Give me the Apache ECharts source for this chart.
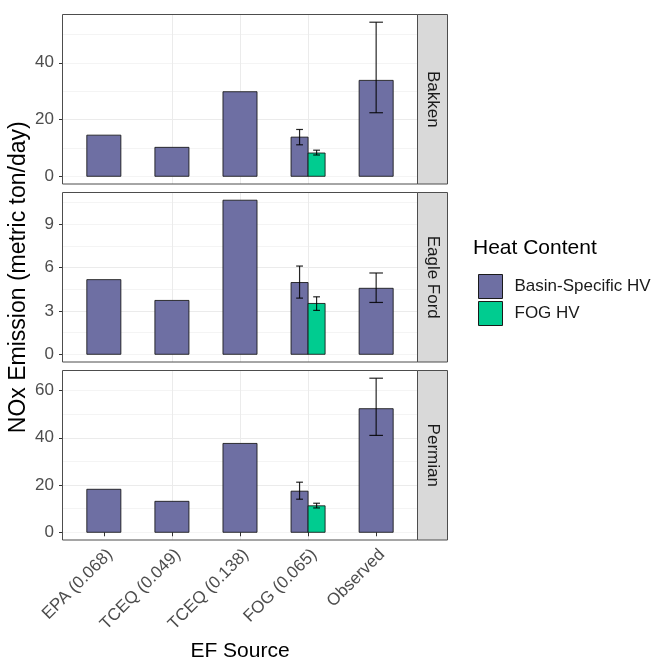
<!DOCTYPE html>
<html><head><meta charset="utf-8">
<script src="https://cdn.jsdelivr.net/npm/echarts@6/dist/echarts.min.js"></script>
<style>html,body{margin:0;padding:0;background:#fff}#c{width:651px;height:662px}</style>
</head><body><div id="c"></div>
<script>
// ---- data ----
const categories = ['EPA (0.068)', 'TCEQ (0.049)', 'TCEQ (0.138)', 'FOG (0.065)', 'Observed'];
const basins = ['Bakken', 'Eagle Ford', 'Permian'];
const seriesNames = ['Basin-Specific HV', 'FOG HV'];
const basinHV = [
  [14.5, 10.2, 29.8, 13.8, 33.8],
  [5.17, 3.73, 10.67, 4.97, 4.57],
  [18.2, 13.1, 37.6, 17.4, 52.3]
];
const fogHV = [
  [null, null, null, 8.2, null],
  [null, null, null, 3.52, null],
  [null, null, null, 11.2, null]
];
const basinErrLow = [
  [null, null, null, 11.1, 22.4],
  [null, null, null, 3.89, 3.59],
  [null, null, null, 14.0, 41.0]
];
const basinErrHigh = [
  [null, null, null, 16.5, 54.3],
  [null, null, null, 6.11, 5.63],
  [null, null, null, 21.2, 65.2]
];
const fogErrLow = [
  [null, null, null, 7.5, null],
  [null, null, null, 3.04, null],
  [null, null, null, 10.3, null]
];
const fogErrHigh = [
  [null, null, null, 9.2, null],
  [null, null, null, 3.98, null],
  [null, null, null, 12.3, null]
];
const tickSteps = [20, 3, 20];

// ---- layout / style ----
const COLORS = ['#6E6FA3', '#00CC90'];
const PANEL_LEFT = 63, PANEL_W = 354, PANEL_TOP = 14.5, PANEL_H = 169.5, PANEL_STEP = 178;
const STRIP_W = 30;
const FONT = '"Liberation Sans", Arial, sans-serif';
const BAR_W = 0.5;

const chart = echarts.init(document.getElementById('c'), null, {renderer: 'canvas'});

function barRender(params, api) {
  const x = api.value(0), y = api.value(1), pos = api.value(2); // pos: 0 single, -1 left dodge, 1 right dodge
  const w = pos === 0 ? BAR_W : BAR_W / 2;
  const cx = x + pos * BAR_W / 4;
  const p0 = api.coord([cx - w / 2, 0]);
  const p1 = api.coord([cx + w / 2, y]);
  return {
    type: 'rect',
    shape: {x: p0[0], y: p1[1], width: p1[0] - p0[0], height: p0[1] - p1[1]},
    style: {fill: api.visual('color'), stroke: 'rgba(20,20,20,0.85)', lineWidth: 1}
  };
}
function errRender(params, api) {
  const x = api.value(0), lo = api.value(1), hi = api.value(2), pos = api.value(3);
  const cx = x + pos * BAR_W / 4;
  const half = pos === 0 ? 0.1 : 0.05;
  const a = api.coord([cx, lo]), b = api.coord([cx, hi]);
  const l = api.coord([cx - half, lo])[0], r = api.coord([cx + half, lo])[0];
  const st = {stroke: 'rgba(0,0,0,0.85)', lineWidth: 1.2};
  return {type: 'group', children: [
    {type: 'line', shape: {x1: a[0], y1: a[1], x2: b[0], y2: b[1]}, style: st},
    {type: 'line', shape: {x1: l, y1: a[1], x2: r, y2: a[1]}, style: st},
    {type: 'line', shape: {x1: l, y1: b[1], x2: r, y2: b[1]}, style: st}
  ]};
}

const grid = [], xAxis = [], yAxis = [], series = [], graphic = [];
basins.forEach((b, p) => {
  const top = PANEL_TOP + p * PANEL_STEP;
  grid.push({left: PANEL_LEFT, top: top, width: PANEL_W, height: PANEL_H});
  const isBottom = p === basins.length - 1;
  xAxis.push({
    type: 'value', gridIndex: p, min: -0.6, max: 4.6, minInterval: 1, maxInterval: 1,
    axisLine: {show: false},
    axisTick: {show: isBottom, length: 4, lineStyle: {color: '#333'}, customValues: categories.map((c, i) => i)},
    axisLabel: {show: isBottom, customValues: categories.map((c, i) => i), rotate: 45, verticalAlign: 'top', align: 'right',
      margin: 6, fontSize: 17, color: '#4D4D4D', fontFamily: FONT,
      formatter: v => categories[Math.round(v)] || ''},
    splitLine: {show: true, showMinLine: false, showMaxLine: false, lineStyle: {color: '#EBEBEB', width: 1}}
  });
  // y range like ggplot (5% expansion)
  let maxV = 0;
  [basinHV[p], fogHV[p], basinErrHigh[p], fogErrHigh[p]].forEach(arr => arr.forEach(v => { if (v != null && v > maxV) maxV = v; }));
  const span = maxV;
  const ymin = -0.05 * span, ymax = maxV + 0.05 * span;
  const step = tickSteps[p];
  const majors = [];
  for (let v = 0; v <= ymax + 1e-9; v += step) majors.push(+v.toFixed(6));
  // minor grid axis
  yAxis.push({
    type: 'value', gridIndex: p, position: 'left', min: ymin, max: ymax, minInterval: step / 2, maxInterval: step / 2,
    axisLine: {show: false}, axisTick: {show: false}, axisLabel: {show: false},
    splitLine: {show: true, showMinLine: false, showMaxLine: false, lineStyle: {color: '#F4F4F4', width: 1}}
  });
  const majorIndex = yAxis.length;
  yAxis.push({
    type: 'value', gridIndex: p, position: 'left', min: ymin, max: ymax, minInterval: step, maxInterval: step,
    axisLine: {show: false},
    axisTick: {show: true, length: 4, lineStyle: {color: '#333'}, customValues: majors},
    axisLabel: {show: true, customValues: majors, margin: 9, fontSize: 17, color: '#4D4D4D', fontFamily: FONT,
      formatter: v => String(Math.round(v))},
    splitLine: {show: true, showMinLine: false, showMaxLine: false, lineStyle: {color: '#EBEBEB', width: 1}}
  });

  const basinData = [], fogData = [], errData = [];
  categories.forEach((c, i) => {
    const dodged = fogHV[p][i] != null;
    if (basinHV[p][i] != null) basinData.push([i, basinHV[p][i], dodged ? -1 : 0]);
    if (fogHV[p][i] != null) fogData.push([i, fogHV[p][i], 1]);
    if (basinErrLow[p][i] != null) errData.push([i, basinErrLow[p][i], basinErrHigh[p][i], dodged ? -1 : 0]);
    if (fogErrLow[p][i] != null) errData.push([i, fogErrLow[p][i], fogErrHigh[p][i], 1]);
  });
  series.push({type: 'custom', name: seriesNames[0], xAxisIndex: p, yAxisIndex: majorIndex, renderItem: barRender,
    itemStyle: {color: COLORS[0]}, data: basinData, encode: {x: 0, y: 1}, z: 3});
  series.push({type: 'custom', name: seriesNames[1], xAxisIndex: p, yAxisIndex: majorIndex, renderItem: barRender,
    itemStyle: {color: COLORS[1]}, data: fogData, encode: {x: 0, y: 1}, z: 3});
  series.push({type: 'custom', name: 'err', xAxisIndex: p, yAxisIndex: majorIndex, renderItem: errRender,
    data: errData, encode: {x: 0, y: [1, 2]}, z: 4, silent: true});

  // panel frame and strip
  graphic.push({type: 'rect', z: 100, silent: true,
    shape: {x: PANEL_LEFT - 0.5, y: top, width: PANEL_W + 1, height: PANEL_H},
    style: {fill: 'none', stroke: '#4D4D4D', lineWidth: 1}});
  graphic.push({type: 'rect', z: 100, silent: true,
    shape: {x: PANEL_LEFT + PANEL_W + 0.5, y: top, width: STRIP_W, height: PANEL_H},
    style: {fill: '#D9D9D9', stroke: '#4D4D4D', lineWidth: 1}});
  graphic.push({type: 'text', z: 101, silent: true,
    x: PANEL_LEFT + PANEL_W + 0.5 + STRIP_W / 2, y: top + PANEL_H / 2, rotation: -Math.PI / 2,
    style: {text: b, fontSize: 17, fill: '#1A1A1A', fontFamily: FONT, align: 'center', verticalAlign: 'middle'}});
});

graphic.push({type: 'text', silent: true, x: 19, y: PANEL_TOP + (PANEL_STEP * 2 + PANEL_H) / 2, rotation: Math.PI / 2,
  style: {text: 'NOx Emission (metric ton/day)', fontSize: 23, fill: '#000', fontFamily: FONT, align: 'center', verticalAlign: 'middle'}});
graphic.push({type: 'text', silent: true, x: PANEL_LEFT + PANEL_W / 2, y: 651,
  style: {text: 'EF Source', fontSize: 21, fill: '#000', fontFamily: FONT, align: 'center', verticalAlign: 'middle'}});
graphic.push({type: 'text', silent: true, x: 473, y: 248,
  style: {text: 'Heat Content', fontSize: 21, fill: '#000', fontFamily: FONT, align: 'left', verticalAlign: 'middle'}});

chart.setOption({
  animation: false,
  backgroundColor: '#fff',
  grid: grid, xAxis: xAxis, yAxis: yAxis, series: series, graphic: graphic,
  legend: {
    data: seriesNames, orient: 'vertical', left: 473, top: 269, itemWidth: 24, itemHeight: 24, itemGap: 2,
    icon: 'rect', selectedMode: false,
    itemStyle: {borderColor: '#1A1A1A', borderWidth: 1},
    textStyle: {fontSize: 17, color: '#1A1A1A', fontFamily: FONT, padding: [0, 0, 0, 7]}
  }
});
</script>
</body></html>
